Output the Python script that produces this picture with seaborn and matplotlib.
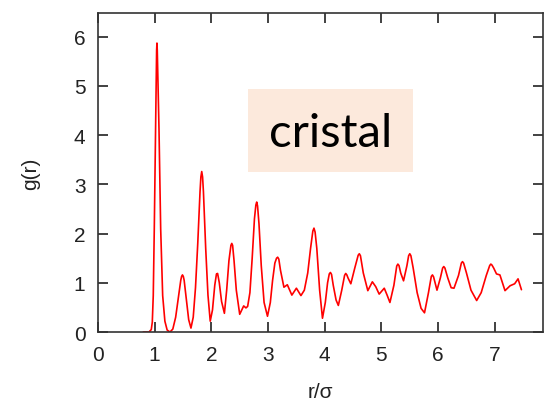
import matplotlib
matplotlib.use("Agg")
import matplotlib.pyplot as plt
from matplotlib.patches import Rectangle
import seaborn as sns
import pandas as pd

# Radial distribution function of the crystal phase
r_sigma = [0.80, 0.90, 0.94, 0.958, 0.975, 0.993, 1.016, 1.028, 1.034, 1.040,
           1.046, 1.052, 1.076, 1.106, 1.141, 1.18, 1.22, 1.27, 1.32, 1.37,
           1.42, 1.46, 1.475, 1.49, 1.505, 1.52, 1.56, 1.60, 1.64, 1.68,
           1.72, 1.76, 1.80, 1.815, 1.83, 1.845, 1.86, 1.90, 1.94, 1.98,
           2.02, 2.06, 2.09, 2.11, 2.14, 2.18, 2.23, 2.27, 2.31, 2.345,
           2.36, 2.375, 2.40, 2.44, 2.50, 2.57, 2.61, 2.64, 2.68, 2.72,
           2.76, 2.785, 2.80, 2.815, 2.84, 2.88, 2.93, 2.99, 3.04, 3.08,
           3.12, 3.15, 3.17, 3.19, 3.22, 3.28, 3.34, 3.42, 3.50, 3.58,
           3.64, 3.70, 3.75, 3.79, 3.81, 3.83, 3.86, 3.91, 3.96, 4.01,
           4.05, 4.08, 4.10, 4.12, 4.15, 4.20, 4.24, 4.30, 4.35, 4.37,
           4.39, 4.41, 4.46, 4.53, 4.59, 4.61, 4.63, 4.68, 4.76, 4.84,
           4.90, 4.96, 5.05, 5.10, 5.15, 5.22, 5.27, 5.29, 5.31, 5.34,
           5.39, 5.45, 5.48, 5.50, 5.52, 5.56, 5.63, 5.70, 5.76, 5.83,
           5.88, 5.90, 5.92, 5.98, 6.04, 6.08, 6.10, 6.12, 6.17, 6.23,
           6.28, 6.36, 6.41, 6.43, 6.45, 6.50, 6.58, 6.68, 6.76, 6.85,
           6.91, 6.93, 6.95, 6.98, 7.03, 7.09, 7.18, 7.27, 7.35, 7.41,
           7.47]
g_r = [0.0, 0.0, 0.05, 0.2, 0.74, 2.09, 4.13, 5.3, 5.72, 5.87,
       5.72, 5.4, 4.13, 2.09, 0.74, 0.22, 0.04, 0.0, 0.06, 0.3,
       0.72, 1.05, 1.13, 1.16, 1.13, 1.05, 0.65, 0.25, 0.08, 0.3,
       0.9, 1.8, 2.85, 3.15, 3.26, 3.15, 2.85, 1.7, 0.75, 0.22,
       0.45, 0.95, 1.18, 1.19, 1.0, 0.62, 0.38, 0.85, 1.45, 1.76,
       1.80, 1.76, 1.45, 0.85, 0.36, 0.53, 0.49, 0.52, 0.8, 1.5,
       2.3, 2.58, 2.64, 2.56, 2.2, 1.35, 0.6, 0.32, 0.6, 1.05,
       1.4, 1.5, 1.52, 1.48, 1.25, 0.91, 0.96, 0.75, 0.89, 0.74,
       0.85, 1.2, 1.7, 2.05, 2.11, 2.03, 1.7, 0.85, 0.28, 0.6,
       1.0, 1.18, 1.21, 1.17, 0.95, 0.65, 0.54, 0.85, 1.15, 1.19,
       1.16, 1.1, 0.98, 1.3, 1.56, 1.59, 1.55, 1.2, 0.84, 1.02,
       0.92, 0.77, 0.89, 0.75, 0.6, 0.95, 1.34, 1.38, 1.35, 1.2,
       1.04, 1.35, 1.55, 1.59, 1.55, 1.3, 0.8, 0.48, 0.39, 0.8,
       1.13, 1.16, 1.12, 0.85, 1.1, 1.30, 1.33, 1.30, 1.1, 0.9,
       0.89, 1.15, 1.40, 1.43, 1.40, 1.2, 0.85, 0.64, 0.8, 1.15,
       1.35, 1.38, 1.36, 1.3, 1.18, 1.16, 0.84, 0.94, 0.98, 1.08,
       0.86]

x_ticks = [0, 1, 2, 3, 4, 5, 6, 7]
y_ticks = [0, 1, 2, 3, 4, 5, 6]

sns.set_theme(style="ticks")
plt.rcParams["font.family"] = ["Liberation Sans", "DejaVu Sans"]

df = pd.DataFrame({"r": r_sigma, "g": g_r})

fig = plt.figure(figsize=(5.45, 4.02), dpi=100)
ax = fig.add_axes([0.1798, 0.1716, 0.8165, 0.7935])

sns.lineplot(data=df, x="r", y="g", color="#ff0000", linewidth=1.2,
             sort=False, ax=ax)

ax.set_xlim(0, 7.85)
ax.set_ylim(0, 6.48)
ax.set_xticks(x_ticks)
ax.set_yticks(y_ticks)

ax.tick_params(axis="both", which="both", direction="in", length=7,
               width=1.3, color="#333333", labelsize=15,
               labelcolor="#222222", top=True, right=True, pad=9)
for side in ax.spines.values():
    side.set_color("#333333")
    side.set_linewidth(1.2)

ax.set_xlabel("r/σ", fontsize=15, color="#222222", labelpad=13)
ax.set_ylabel("g(r)", fontsize=15, color="#222222", labelpad=24)

# Phase annotation box
ax.add_patch(Rectangle((0.337, 0.5016), 0.371, 0.2602,
                       transform=ax.transAxes, facecolor="#fce9dc",
                       edgecolor="none", zorder=3))
ax.text(0.5225, 0.625, "cristal", transform=ax.transAxes,
        ha="center", va="center", fontsize=34, color="black",
        family=["Lato", "DejaVu Sans"], zorder=4)

fig.savefig("out.png", dpi=100)
